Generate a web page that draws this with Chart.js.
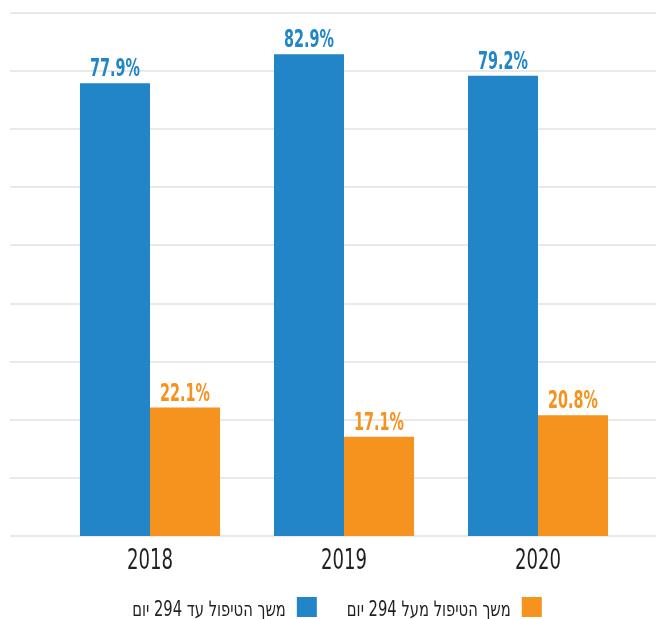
<!DOCTYPE html>
<html>
<head>
<meta charset="utf-8">
<script src="https://cdn.jsdelivr.net/npm/chart.js@4/dist/chart.umd.min.js"></script>
<style>
  html, body { margin: 0; padding: 0; background: #ffffff; }
  #wrap { width: 656px; height: 619px; position: relative; }
</style>
</head>
<body>
<div id="wrap"><canvas id="c"></canvas></div>
<script>
// Years shown on the category axis
const years = ['2018', '2019', '2020'];
// Share of cases by treatment duration (percent)
const upTo294 = [77.9, 82.9, 79.2];
const over294 = [22.1, 17.1, 20.8];
// Series names
const seriesNames = ['משך הטיפול עד 294 יום', 'משך הטיפול מעל 294 יום'];

const BLUE = '#2185c7';
const ORANGE = '#f6921e';
const GRID = '#ece9e4';
const TEXT = '#231f20';
const FAMILY = '"DejaVu Sans Condensed", "DejaVu Sans", sans-serif';

// Draw text squeezed horizontally to get a narrow display face
function narrowText(ctx, txt, x, y, sx, font, color, align, dir) {
  ctx.save();
  ctx.translate(x, y);
  ctx.scale(sx, 1);
  ctx.font = font;
  ctx.fillStyle = color;
  ctx.textAlign = align;
  ctx.textBaseline = 'alphabetic';
  if (dir) ctx.direction = dir;
  ctx.fillText(txt, 0, 0);
  ctx.restore();
}
function narrowWidth(ctx, txt, sx, font) {
  ctx.save();
  ctx.font = font;
  const w = ctx.measureText(txt).width * sx;
  ctx.restore();
  return w;
}

// Horizontal guide lines across the full width, placed with the y scale
const gridPlugin = {
  id: 'fullGrid',
  beforeDatasetsDraw(chart) {
    const y = chart.scales.y;
    const ctx = chart.ctx;
    ctx.save();
    ctx.strokeStyle = GRID;
    ctx.lineWidth = 2;
    for (let v = y.min; v <= y.max + 1e-9; v += 10) {
      const py = Math.round(y.getPixelForValue(v));
      ctx.beginPath();
      ctx.moveTo(10, py);
      ctx.lineTo(chart.width, py);
      ctx.stroke();
    }
    ctx.restore();
  }
};

// Percentage labels above bars, year labels under each group, and the legend
const annotations = {
  id: 'annotations',
  afterDatasetsDraw(chart) {
    const ctx = chart.ctx;
    const area = chart.chartArea;
    const valueFont = 'bold 25px ' + FAMILY;
    chart.data.datasets.forEach((ds, i) => {
      const meta = chart.getDatasetMeta(i);
      meta.data.forEach((bar, j) => {
        const txt = ds.data[j].toFixed(1) + '%';
        narrowText(ctx, txt, bar.x, bar.y - 7, 0.64, valueFont, ds.backgroundColor, 'center');
      });
    });

    const x = chart.scales.x;
    const yearFont = '28px ' + FAMILY;
    chart.data.labels.forEach((lab, k) => {
      narrowText(ctx, lab, x.getPixelForTick(k), area.bottom + 33, 0.72, yearFont, TEXT, 'center');
    });

    // Legend, laid out right to left: second series first
    const legFont = '21px ' + FAMILY;
    const sx = 0.78, box = 20, gapText = 11, gapItem = 30;
    const order = chart.data.datasets.map((d, i) => i).reverse();
    const items = order.map(i => ({
      ds: chart.data.datasets[i],
      w: narrowWidth(ctx, chart.data.datasets[i].label, sx, legFont)
    }));
    let total = 0;
    items.forEach((it, n) => { total += box + gapText + it.w + (n ? gapItem : 0); });
    const center = (area.left + area.right) / 2 - 7;
    let right = center + total / 2;
    const boxTop = area.bottom + 61;
    items.forEach(it => {
      ctx.fillStyle = it.ds.backgroundColor;
      ctx.fillRect(right - box, boxTop, box, box);
      const textRight = right - box - gapText;
      narrowText(ctx, it.ds.label, textRight, boxTop + box - 1, sx, legFont, TEXT, 'right', 'rtl');
      right = textRight - it.w - gapItem;
    });
  }
};

new Chart(document.getElementById('c'), {
  type: 'bar',
  data: {
    labels: years,
    datasets: [
      { label: seriesNames[0], data: upTo294, backgroundColor: BLUE },
      { label: seriesNames[1], data: over294, backgroundColor: ORANGE }
    ]
  },
  options: {
    responsive: true,
    maintainAspectRatio: false,
    animation: false,
    layout: { padding: { top: 13, left: 53, right: 21, bottom: 83 } },
    datasets: { bar: { categoryPercentage: 0.722, barPercentage: 1.0 } },
    scales: {
      x: { display: false },
      y: { display: false, min: 0, max: 90 }
    },
    plugins: {
      legend: { display: false },
      tooltip: { enabled: false }
    }
  },
  plugins: [gridPlugin, annotations]
});
</script>
</body>
</html>
